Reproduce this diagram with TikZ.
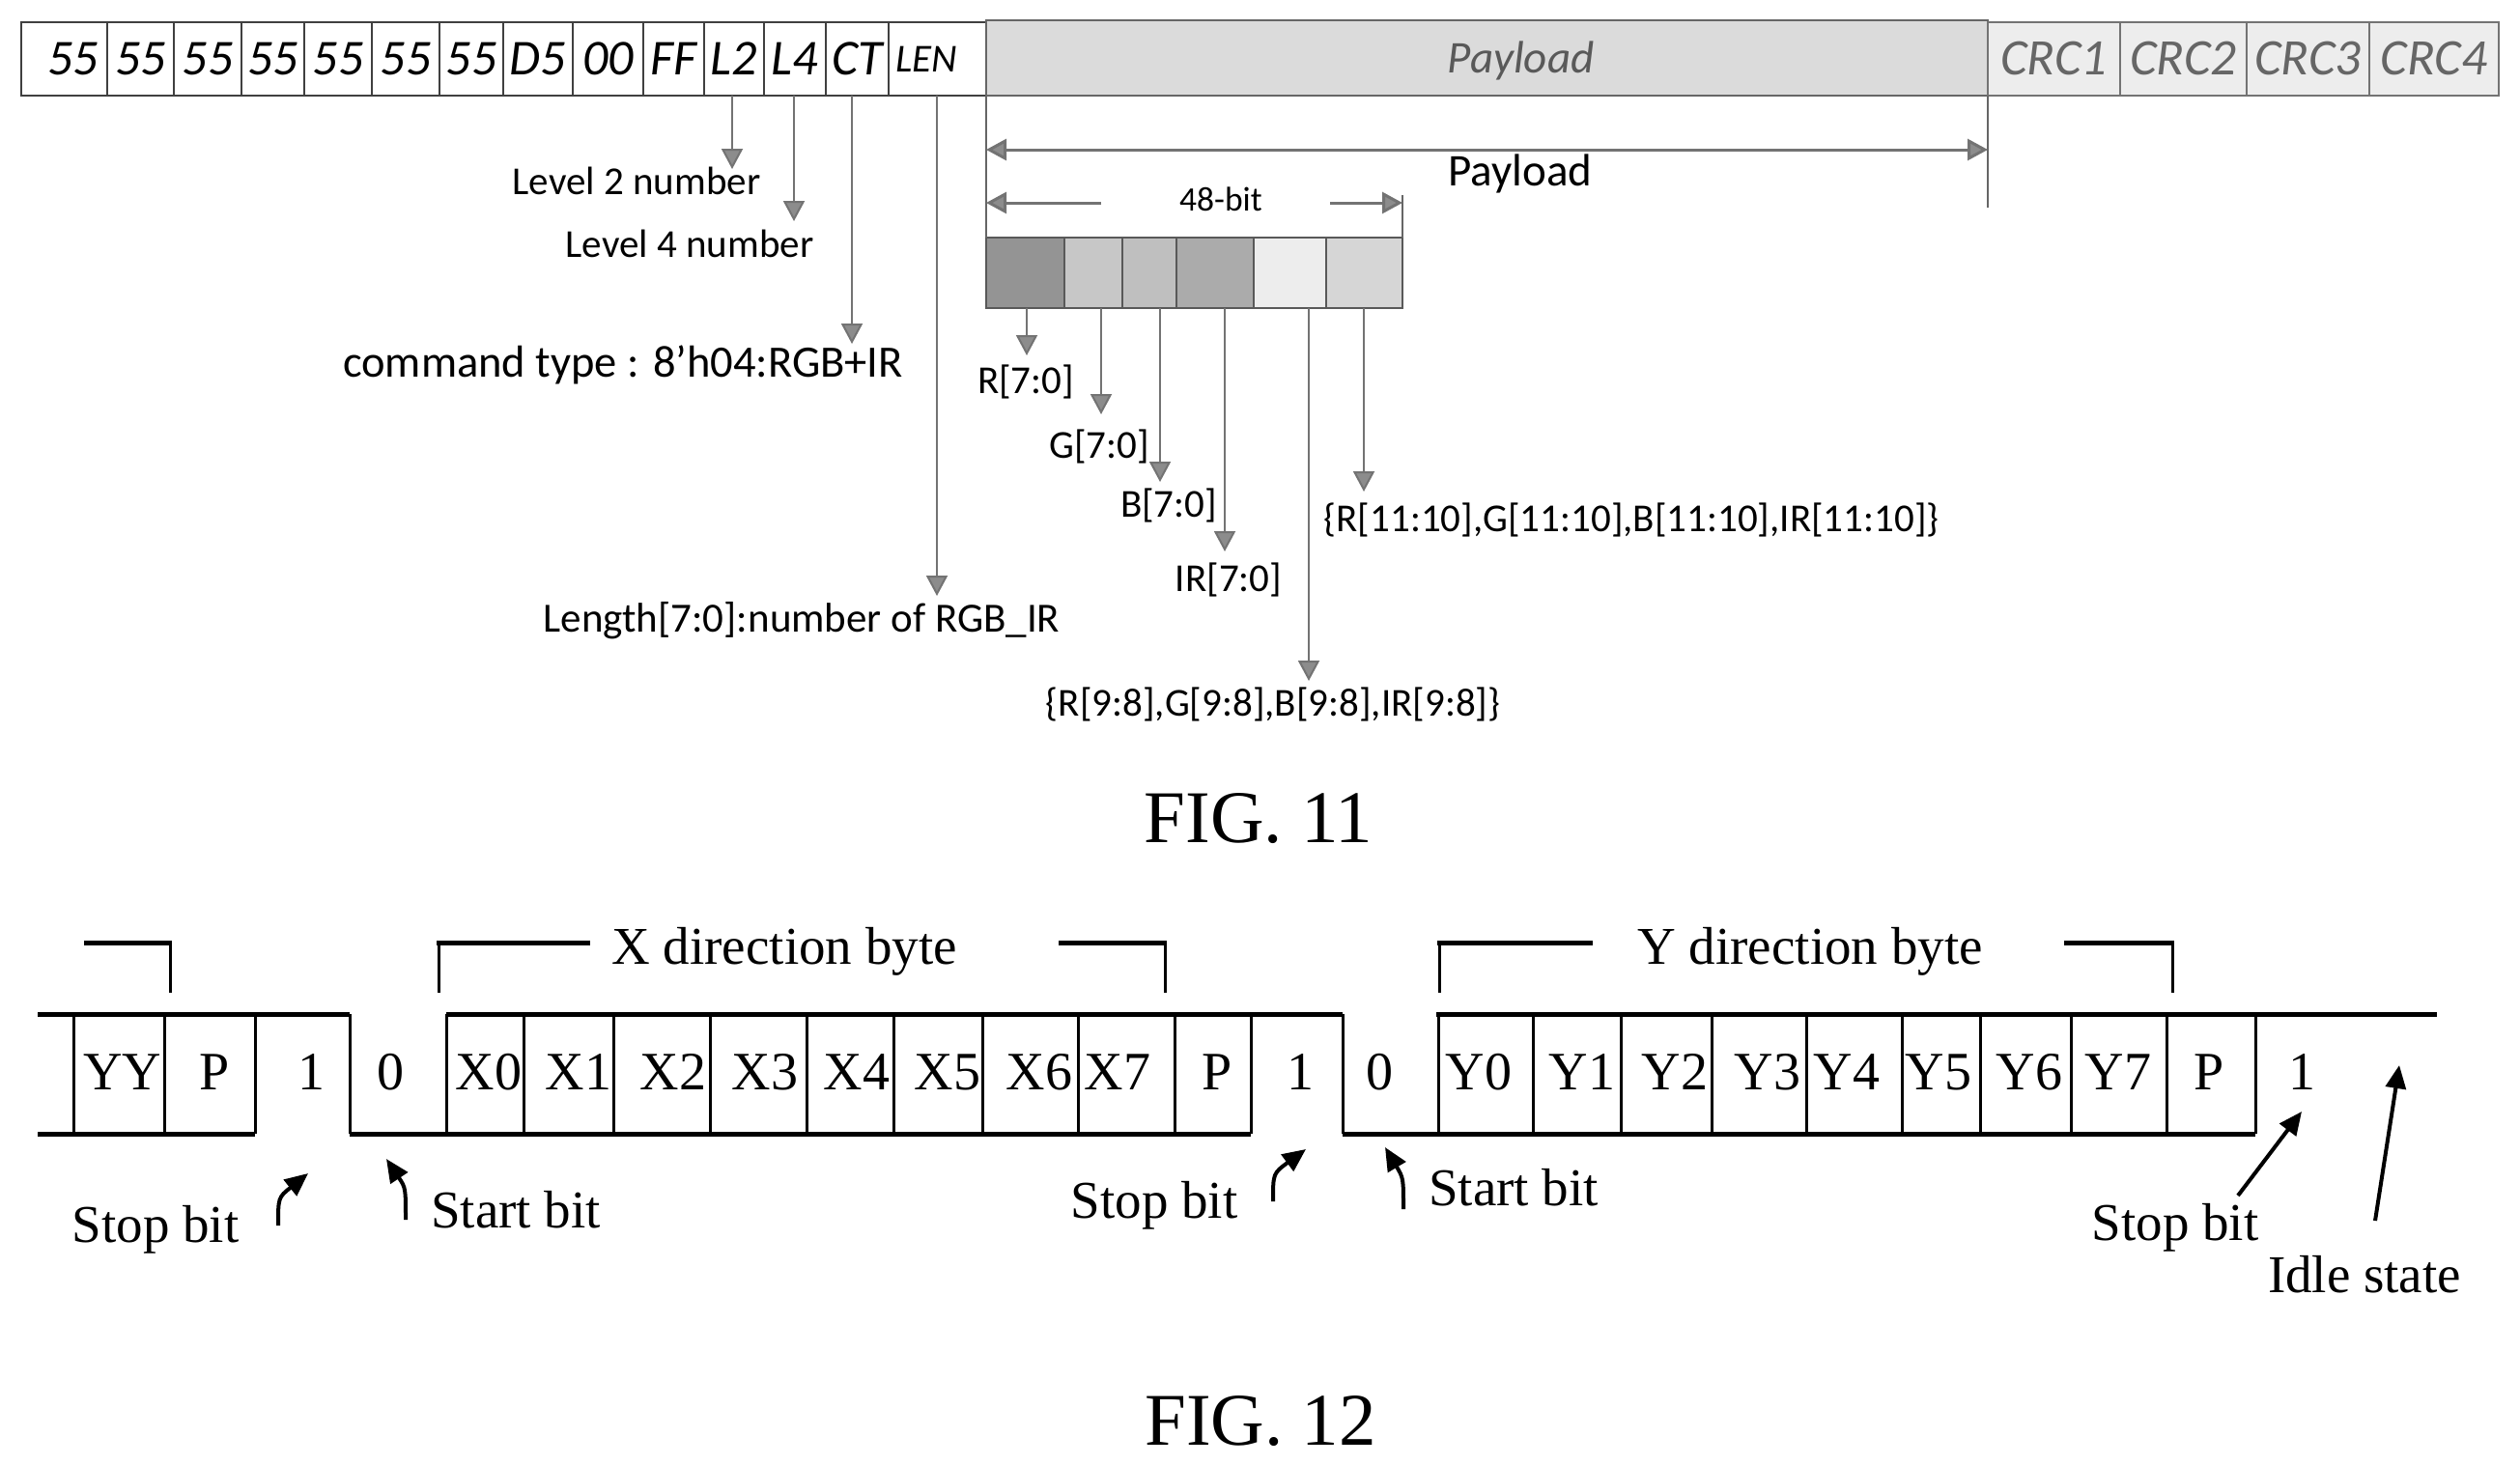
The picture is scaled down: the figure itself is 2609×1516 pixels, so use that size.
\documentclass[tikz,border=0pt]{standalone}
\usepackage{fontspec}
\setmainfont{Carlito}
\newfontfamily\tmsfont{Liberation Serif}
\usetikzlibrary{arrows.meta}
\newcommand{\fsz}[1]{\fontsize{#1}{#1}\selectfont}
\newcommand{\cellbox}[7]{\node[cellst,#6,minimum width={(#3-#2)*1pt},minimum height={(#5-#4)*1pt}] (#1) at ({(#2+#3)/2},{(#4+#5)/2}) {#7};}
\tikzset{
 cellst/.style={draw=black!75,line width=2.5pt,inner sep=0pt,outer sep=0pt,text height=33pt,text depth=0pt},
 head/.style={font=\fsz{52}\itshape},
 paycell/.style={fill=black!14,draw=black!60,font=\fsz{47}\itshape,text=black!65,text height=30pt},
 crc/.style={fill=black!7,draw=black!55,line width=2pt,font=\fsz{53}\itshape,text=black!60},
 sub/.style={draw=black!65,line width=2pt},
 cal/.style={inner sep=0pt,font=\fsz{41},text height=27pt,text depth=0pt},
 small/.style={inner sep=0pt,font=\fsz{41},text height=27pt,text depth=0pt},
 sig/.style={line width=5pt,black},
 cellline/.style={line width=3pt,black},
 brk/.style={line width=3pt,black},
 brktop/.style={line width=5pt,black},
 tms/.style={inner sep=0pt,font=\tmsfont\fsz{55},text height=36pt,text depth=0pt},
 bit/.style={inner sep=0pt,font=\tmsfont\fsz{56},text height=37pt,text depth=0pt},
 figl/.style={inner sep=0pt,font=\tmsfont\fsz{77},text height=51pt,text depth=0pt},
 garr/.style={line width=2pt,black!55,-{Triangle[length=21pt,width=22pt,fill=black!45]}},
 gdbl/.style={line width=3pt,black!55,{Triangle[length=21pt,width=22pt,fill=black!45]}-{Triangle[length=21pt,width=22pt,fill=black!45]}},
 gone/.style={line width=3pt,black!55,-{Triangle[length=21pt,width=22pt,fill=black!45]}},
 gline/.style={line width=1.5pt,black!60},
 barr/.style={line width=4pt,black,-{Triangle[length=24pt,width=21pt]}},
}
\begin{document}
\begin{tikzpicture}[x=1pt,y=-1pt]
\useasboundingbox (0,0) rectangle (2609,1516);
\fill[white] (0,0) rectangle (2609,1516);
% --- FIG. 11 header
\cellbox{h1}{22}{111}{23}{99}{head}{\hspace*{18pt}55}
\cellbox{h2}{111}{180}{23}{99}{head}{55}
\cellbox{h3}{180}{250}{23}{99}{head}{55}
\cellbox{h4}{250}{315}{23}{99}{head}{55}
\cellbox{h5}{315}{385}{23}{99}{head}{55}
\cellbox{h6}{385}{455}{23}{99}{head}{55}
\cellbox{h7}{455}{521}{23}{99}{head}{55}
\cellbox{hD}{521}{593}{23}{99}{head}{D5}
\cellbox{h0}{593}{666}{23}{99}{head}{00}
\cellbox{hF}{666}{729}{23}{99}{head}{FF}
\cellbox{L2}{729}{791}{23}{99}{head}{L2}
\cellbox{L4}{791}{855}{23}{99}{head}{L4}
\cellbox{CT}{855}{920}{23}{99}{head}{CT}
\cellbox{LEN}{920}{1021}{23}{99}{font=\fsz{41}\itshape,text height=26pt}{LEN\hspace*{22pt}}
\cellbox{PAY}{1021}{2058}{21}{99}{paycell}{\hspace*{70pt}Payload}
\cellbox{C1}{2058}{2195}{23}{99}{crc}{CRC1}
\cellbox{C2}{2195}{2326}{23}{99}{crc}{CRC2}
\cellbox{C3}{2326}{2453}{23}{99}{crc}{CRC3}
\cellbox{C4}{2453}{2587}{23}{99}{crc}{CRC4}
% --- 48-bit group
\cellbox{sR}{1021}{1102}{246}{319}{sub,fill=black!42}{}
\cellbox{sG}{1102}{1162}{246}{319}{sub,fill=black!22}{}
\cellbox{sB}{1162}{1218}{246}{319}{sub,fill=black!25}{}
\cellbox{sI}{1218}{1298}{246}{319}{sub,fill=black!33}{}
\cellbox{sN}{1298}{1373}{246}{319}{sub,fill=black!7}{}
\cellbox{sE}{1373}{1452}{246}{319}{sub,fill=black!16}{}
% --- labels
\node[cal] (lL2) at (659,188) {Level 2 number};
\node[cal] (lL4) at (714,253) {Level 4 number};
\node[cal,font=\fsz{46.5},text height=30pt] (lCT) at (645,375) {command type : 8’h04:RGB+IR};
\node[cal,font=\fsz{43},text height=28pt] (lLEN) at (830,640) {Length[7:0]:number of RGB\_IR};
\node[cal,font=\fsz{47},text height=30pt] (lPay) at (1574,177) {Payload};
\node[small,font=\fsz{35.5},text height=23pt] (l48) at (1264,207) {48-bit};
\node[small] (lR) at (1062,394) {R[7:0]};
\node[small] (lG) at (1138,461) {G[7:0]};
\node[small] (lB) at (1210,522) {B[7:0]};
\node[small] (lI) at (1272,599) {IR[7:0]};
\node[small] (lE) at (1689,537) {\{R[11:10],G[11:10],B[11:10],IR[11:10]\}};
\node[small] (lN) at (1318,728) {\{R[9:8],G[9:8],B[9:8],IR[9:8]\}};
% --- free ends
\coordinate (eL2) at (758,175);
\coordinate (eL4) at (822,229);
\coordinate (eCT) at (882,356);
\coordinate (eLEN) at (970,617);
\coordinate (eR) at (1063,368);
\coordinate (eG) at (1140,429);
\coordinate (eB) at (1201,499);
\coordinate (eI) at (1268,571);
\coordinate (eN) at (1355,705);
\coordinate (eE) at (1412,509);
\coordinate (pL) at (1021,155);
\coordinate (pR) at (2058,155);
\coordinate (pRb) at (2058,215);
\coordinate (bL) at (1021,210);
\coordinate (bLi) at (1140,210);
\coordinate (bRi) at (1377,210);
\coordinate (bR) at (1452,210);
\coordinate (bRt) at (1452,202);
% --- connectors
\draw[garr] (L2.south -| eL2) -- (eL2);
\draw[garr] (L4.south -| eL4) -- (eL4);
\draw[garr] (CT.south -| eCT) -- (eCT);
\draw[garr] (LEN.south -| eLEN) -- (eLEN);
\draw[garr] (sR.south -| eR) -- (eR);
\draw[garr] (sG.south -| eG) -- (eG);
\draw[garr] (sB.south -| eB) -- (eB);
\draw[garr] (sI.south -| eI) -- (eI);
\draw[garr] (sN.south -| eN) -- (eN);
\draw[garr] (sE.south -| eE) -- (eE);
\draw[gline] (PAY.south west) -- (sR.north west);
\draw[gline] (PAY.south east) -- (pRb);
\draw[gline] (bRt) -- (sE.north east);
\draw[gdbl] (pL) -- (pR);
\draw[gone] (bLi) -- (bL);
\draw[gone] (bRi) -- (bR);
% --- FIG. 11 / 12 captions
\node[figl] (f11) at (1303,847) {FIG. 11};
\node[figl] (f12) at (1305,1471) {FIG. 12};
% --- FIG. 12 signal
\draw[sig] (39,1050) -- (362,1050);
\draw[sig] (39,1174) -- (264,1174);
\draw[sig] (362,1174) -- (1295,1174);
\draw[sig] (462,1050) -- (1390,1050);
\draw[sig] (1390,1174) -- (2335,1174);
\draw[sig] (1487,1050) -- (2523,1050);
\foreach \xx in {76,170,264,362,462,542,635,735,835,925,1017,1116,1216,1295,1390,1489,1587,1678,1772,1870,1969,2050,2144,2243,2335}
  \draw[cellline] (\xx,1050) -- (\xx,1174);
% --- bit labels
\foreach \nm/\xx/\tt in {b1/127/YY,b2/222/P,b3/322/1,b4/404/0,b5/506/X0,b6/599/X1,b7/697/X2,b8/792/X3,b9/887/X4,b10/981/X5,b11/1076/X6,b12/1157/X7,b13/1260/P,b14/1346/1,b15/1428/0,b16/1531/Y0,b17/1638/Y1,b18/1734/Y2,b19/1830/Y3,b20/1912/Y4,b21/2007/Y5,b22/2101/Y6,b23/2193/Y7,b24/2287/P,b25/2383/1}
  \node[bit] (\nm) at (\xx,1110) {\tt};
% --- brackets
\draw[brk] (176,978) -- (176,1028);
\draw[brktop] (87,976) -- (178,976);
\draw[brk] (454,978) -- (454,1028);
\draw[brktop] (452,976) -- (611,976);
\draw[brk] (1206,978) -- (1206,1028);
\draw[brktop] (1096,976) -- (1208,976);
\draw[brk] (1490,978) -- (1490,1028);
\draw[brktop] (1488,976) -- (1649,976);
\draw[brk] (2249,978) -- (2249,1028);
\draw[brktop] (2137,976) -- (2251,976);
\node[tms] (tX) at (812,980) {X direction byte};
\node[tms] (tY) at (1874,980) {Y direction byte};
% --- notes
\node[tms] (s1) at (161,1268) {Stop bit};
\node[tms] (st1) at (534,1253) {Start bit};
\node[tms] (s2) at (1195,1243) {Stop bit};
\node[tms] (st2) at (1567,1230) {Start bit};
\node[tms] (s3) at (2252,1266) {Stop bit};
\node[tms] (id) at (2448,1320) {Idle state};
\coordinate (a1) at (288,1269); \coordinate (a1c) at (288,1240); \coordinate (a1t) at (319,1215);
\coordinate (a2) at (420,1263); \coordinate (a2c) at (420,1230); \coordinate (a2t) at (400,1200);
\coordinate (a3) at (1318,1244); \coordinate (a3c) at (1318,1215); \coordinate (a3t) at (1352,1190);
\coordinate (a4) at (1453,1252); \coordinate (a4c) at (1453,1220); \coordinate (a4t) at (1434,1188);
\coordinate (a5) at (2317,1238); \coordinate (a5t) at (2383,1151);
\coordinate (a6) at (2459,1264); \coordinate (a6t) at (2484,1103);
\draw[barr] (a1) .. controls (a1c) .. (a1t);
\draw[barr] (a2) .. controls (a2c) .. (a2t);
\draw[barr] (a3) .. controls (a3c) .. (a3t);
\draw[barr] (a4) .. controls (a4c) .. (a4t);
\draw[barr] (a5) -- (a5t);
\draw[barr] (a6) -- (a6t);
\end{tikzpicture}
\end{document}
